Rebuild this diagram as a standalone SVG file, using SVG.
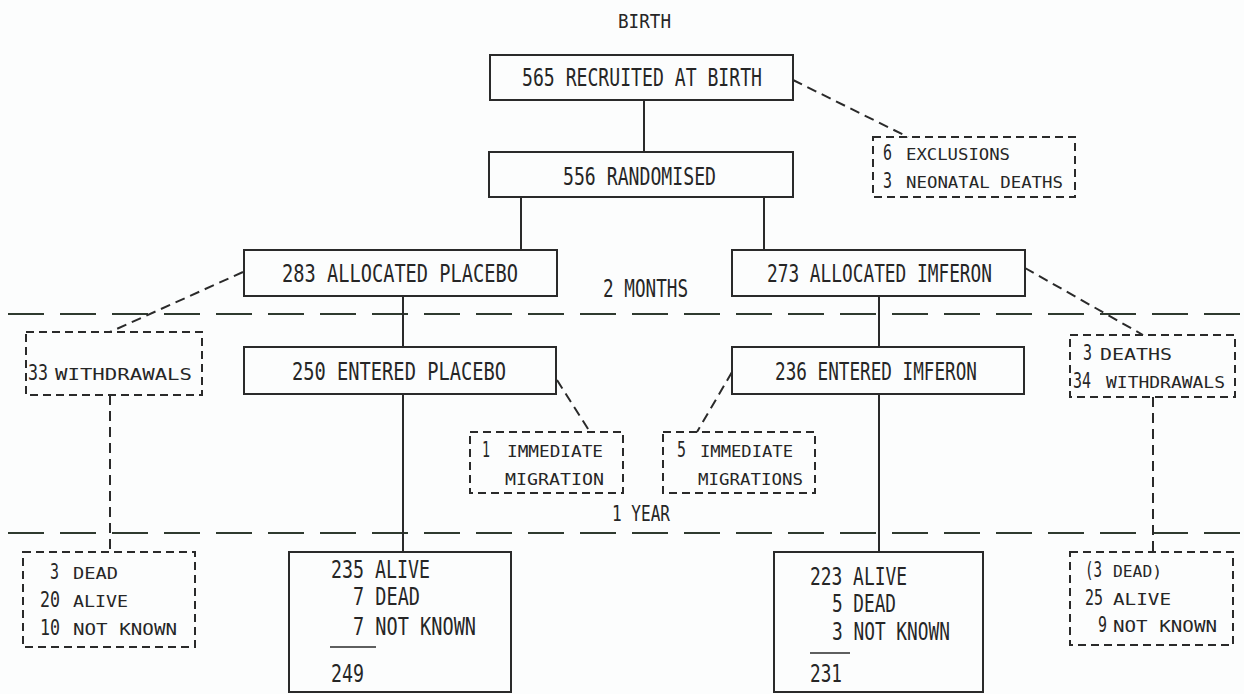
<svg xmlns="http://www.w3.org/2000/svg" width="1244" height="694" viewBox="0 0 1244 694">
<style>
text{font-family:"DejaVu Sans Mono","Liberation Mono",monospace;fill:#262626}
.m{font-size:24px}
.d{font-size:21px}
.s{font-size:16px}
.box{fill:none;stroke:#2a2a2a;stroke-width:2}
.dbox{fill:none;stroke:#2a2a2a;stroke-width:2;stroke-dasharray:8 5}
.sl{stroke:#2a2a2a;stroke-width:2;fill:none}
.dl{stroke:#2a2a2a;stroke-width:2;fill:none;stroke-dasharray:10 6}
.tl{stroke:#2f3a2f;stroke-width:2;fill:none;stroke-dasharray:36 16}
</style>
<rect width="1244" height="694" fill="#fcfdfd"/>
<g id="timelines">
<line class="tl" x1="8" y1="314" x2="1244" y2="314"/>
<line class="tl" x1="8" y1="533" x2="1244" y2="533"/>
<text class="m" x="618" y="28" textLength="53" lengthAdjust="spacingAndGlyphs" style="font-size:20px">BIRTH</text>
<text class="m" x="603" y="297" textLength="85" lengthAdjust="spacingAndGlyphs">2 MONTHS</text>
<text class="m" x="612" y="521" textLength="58" lengthAdjust="spacingAndGlyphs" style="font-size:21px">1 YEAR</text>
</g>
<g id="connectors">
<line class="sl" x1="644" y1="100" x2="644" y2="152"/>
<line class="sl" x1="521" y1="197" x2="521" y2="250"/>
<line class="sl" x1="764" y1="197" x2="764" y2="250"/>
<line class="sl" x1="403" y1="296" x2="403" y2="347"/>
<line class="sl" x1="879" y1="296" x2="879" y2="347"/>
<line class="sl" x1="403" y1="394" x2="403" y2="552"/>
<line class="sl" x1="879" y1="394" x2="879" y2="552"/>
<line class="dl" x1="793" y1="80" x2="908" y2="137"/>
<line class="dl" x1="243" y1="272" x2="110" y2="332"/>
<line class="dl" x1="110" y1="395" x2="110" y2="552"/>
<line class="dl" x1="557" y1="380" x2="590" y2="432"/>
<line class="dl" x1="732" y1="372" x2="697" y2="432"/>
<line class="dl" x1="1025" y1="268" x2="1143" y2="335"/>
<line class="dl" x1="1153" y1="397" x2="1153" y2="552"/>
</g>
<g id="recruited">
<rect class="box" x="490" y="55" width="303" height="45"/>
<text class="m" x="522" y="86" textLength="240" lengthAdjust="spacingAndGlyphs">565 RECRUITED AT BIRTH</text>
</g>
<g id="randomised">
<rect class="box" x="489" y="152" width="304" height="45"/>
<text class="m" x="563" y="185" textLength="153" lengthAdjust="spacingAndGlyphs">556 RANDOMISED</text>
</g>
<g id="exclusions">
<rect class="dbox" x="873" y="137" width="202" height="60"/>
<text class="d" x="883" y="160" textLength="9" lengthAdjust="spacingAndGlyphs">6</text>
<text class="s" x="906" y="160" textLength="104" lengthAdjust="spacingAndGlyphs">EXCLUSIONS</text>
<text class="d" x="883" y="188" textLength="9" lengthAdjust="spacingAndGlyphs">3</text>
<text class="s" x="906" y="188" textLength="157" lengthAdjust="spacingAndGlyphs">NEONATAL DEATHS</text>
</g>
<g id="alloc-placebo">
<rect class="box" x="244" y="250" width="313" height="46"/>
<text class="m" x="282" y="282" textLength="236" lengthAdjust="spacingAndGlyphs">283 ALLOCATED PLACEBO</text>
</g>
<g id="alloc-imferon">
<rect class="box" x="732" y="250" width="293" height="46"/>
<text class="m" x="767" y="282" textLength="225" lengthAdjust="spacingAndGlyphs">273 ALLOCATED IMFERON</text>
</g>
<g id="withdrawals-left">
<rect class="dbox" x="26" y="332" width="176" height="63"/>
<text class="d" x="28" y="380" textLength="20" lengthAdjust="spacingAndGlyphs">33</text>
<text class="s" x="55" y="380" textLength="137" lengthAdjust="spacingAndGlyphs">WITHDRAWALS</text>
</g>
<g id="entered-placebo">
<rect class="box" x="244" y="347" width="312" height="47"/>
<text class="m" x="292" y="380" textLength="214" lengthAdjust="spacingAndGlyphs">250 ENTERED PLACEBO</text>
</g>
<g id="entered-imferon">
<rect class="box" x="732" y="347" width="292" height="47"/>
<text class="m" x="775" y="380" textLength="202" lengthAdjust="spacingAndGlyphs">236 ENTERED IMFERON</text>
</g>
<g id="deaths-withdrawals-right">
<rect class="dbox" x="1070" y="335" width="165" height="62"/>
<text class="d" x="1083" y="360" textLength="9" lengthAdjust="spacingAndGlyphs">3</text>
<text class="s" x="1100" y="360" textLength="72" lengthAdjust="spacingAndGlyphs">DEATHS</text>
<text class="d" x="1073" y="388" textLength="18" lengthAdjust="spacingAndGlyphs">34</text>
<text class="s" x="1106" y="388" textLength="119" lengthAdjust="spacingAndGlyphs">WITHDRAWALS</text>
</g>
<g id="migration-placebo">
<rect class="dbox" x="470" y="432" width="153" height="61"/>
<text class="d" x="482" y="457" textLength="8" lengthAdjust="spacingAndGlyphs">1</text>
<text class="s" x="507" y="457" textLength="96" lengthAdjust="spacingAndGlyphs">IMMEDIATE</text>
<text class="s" x="505" y="485" textLength="99" lengthAdjust="spacingAndGlyphs">MIGRATION</text>
</g>
<g id="migration-imferon">
<rect class="dbox" x="663" y="432" width="152" height="61"/>
<text class="d" x="677" y="457" textLength="9" lengthAdjust="spacingAndGlyphs">5</text>
<text class="s" x="700" y="457" textLength="93" lengthAdjust="spacingAndGlyphs">IMMEDIATE</text>
<text class="s" x="698" y="485" textLength="105" lengthAdjust="spacingAndGlyphs">MIGRATIONS</text>
</g>
<g id="outcome-withdrawn-placebo">
<rect class="dbox" x="23" y="552" width="172" height="95"/>
<text class="d" x="50" y="579" textLength="9" lengthAdjust="spacingAndGlyphs">3</text>
<text class="s" x="73" y="579" textLength="45" lengthAdjust="spacingAndGlyphs">DEAD</text>
<text class="d" x="40" y="607" textLength="20" lengthAdjust="spacingAndGlyphs">20</text>
<text class="s" x="73" y="607" textLength="55" lengthAdjust="spacingAndGlyphs">ALIVE</text>
<text class="d" x="40" y="635" textLength="20" lengthAdjust="spacingAndGlyphs">10</text>
<text class="s" x="73" y="635" textLength="104" lengthAdjust="spacingAndGlyphs">NOT KNOWN</text>
</g>
<g id="outcome-placebo">
<rect class="box" x="289" y="552" width="222" height="140"/>
<text class="m" x="331" y="578" textLength="99" lengthAdjust="spacingAndGlyphs">235 ALIVE</text>
<text class="m" x="353" y="605" textLength="67" lengthAdjust="spacingAndGlyphs">7 DEAD</text>
<text class="m" x="353" y="635" textLength="123" lengthAdjust="spacingAndGlyphs">7 NOT KNOWN</text>
<line class="sl" x1="330" y1="647" x2="376" y2="647" style="stroke-width:1.5"/>
<text class="m" x="331" y="682" textLength="33" lengthAdjust="spacingAndGlyphs">249</text>
</g>
<g id="outcome-imferon">
<rect class="box" x="774" y="552" width="209" height="140"/>
<text class="m" x="810" y="585" textLength="97" lengthAdjust="spacingAndGlyphs">223 ALIVE</text>
<text class="m" x="832" y="612" textLength="64" lengthAdjust="spacingAndGlyphs">5 DEAD</text>
<text class="m" x="832" y="640" textLength="118" lengthAdjust="spacingAndGlyphs">3 NOT KNOWN</text>
<line class="sl" x1="810" y1="653" x2="850" y2="653" style="stroke-width:1.5"/>
<text class="m" x="810" y="682" textLength="32" lengthAdjust="spacingAndGlyphs">231</text>
</g>
<g id="outcome-withdrawn-imferon">
<rect class="dbox" x="1070" y="552" width="163" height="93"/>
<text class="d" x="1085" y="577" textLength="17" lengthAdjust="spacingAndGlyphs">(3</text>
<text class="s" x="1113" y="577" textLength="49" lengthAdjust="spacingAndGlyphs">DEAD)</text>
<text class="d" x="1085" y="605" textLength="18" lengthAdjust="spacingAndGlyphs">25</text>
<text class="s" x="1113" y="605" textLength="58" lengthAdjust="spacingAndGlyphs">ALIVE</text>
<text class="d" x="1098" y="632" textLength="9" lengthAdjust="spacingAndGlyphs">9</text>
<text class="s" x="1113" y="632" textLength="104" lengthAdjust="spacingAndGlyphs">NOT KNOWN</text>
</g>
</svg>
